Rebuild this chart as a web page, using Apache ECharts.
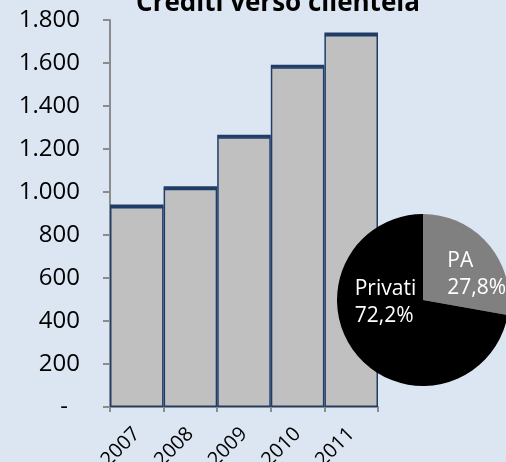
<!DOCTYPE html>
<html><head><meta charset="utf-8">
<script src="https://cdn.jsdelivr.net/npm/echarts@6/dist/echarts.min.js"></script>
<style>html,body{margin:0;padding:0;background:#dce6f2;}#c{width:506px;height:462px;}</style>
</head><body><div id="c"></div>
<script>
const title = 'Crediti verso clientela';
const years = ['2007','2008','2009','2010','2011'];
const crediti = [930, 1015, 1255, 1580, 1730];
const yTicks = {min: 0, max: 1800, step: 200};
const pieNames = ['PA', 'Privati'];
const pieValues = [27.8, 72.2];

const FONT = 'Open Sans';
const chart = echarts.init(document.getElementById('c'));
function fmtThousands(v){
  if (v === 0) return '{z|-}';
  return String(v).replace(/\B(?=(\d{3})+(?!\d))/g, '.');
}
chart.setOption({
  backgroundColor: '#dce6f2',
  animation: false,
  title: {text: title, left: 273, textAlign: 'center', top: -14,
    textStyle: {fontFamily: FONT, fontSize: 26, fontWeight: 'bold', color: '#000'}},
  grid: {left: 110, right: 128, top: 20, bottom: 55, containLabel: false, outerBoundsMode: 'none'},
  xAxis: {
    type: 'category', data: years, boundaryGap: true,
    axisLine: {lineStyle: {color: '#8c8c8c', width: 2}},
    axisTick: {show: true, length: 5, lineStyle: {color: '#8c8c8c', width: 2}},
    axisLabel: {rotate: 45, fontFamily: FONT, fontSize: 20, color: '#000', margin: 24}
  },
  yAxis: {
    type: 'value', min: yTicks.min, max: yTicks.max, interval: yTicks.step,
    splitLine: {show: false},
    axisLine: {show: true, lineStyle: {color: '#8c8c8c', width: 2}},
    axisTick: {show: true, length: 7, lineStyle: {color: '#8c8c8c', width: 2}},
    axisLabel: {formatter: fmtThousands, fontFamily: FONT, fontSize: 24, color: '#000', margin: 30,
      rich: {z: {fontFamily: FONT, fontSize: 24, color: '#000', padding: [0, 12, 0, 0]}}}
  },
  series: [
    {type: 'bar', data: crediti, barWidth: '100%', barGap: '-100%',
      itemStyle: {color: '#c0c0c0', borderColor: '#1f3d66', borderWidth: 1.5}, z: 2},
    {type: 'custom', data: crediti.map((v,i)=>[i,v]), z: 3,
      renderItem: function(params, api){
        const p = api.coord([api.value(0), api.value(1)]);
        const w = api.size([1, 0])[0];
        return {type: 'line', shape: {x1: p[0]-w/2, y1: p[1]-1, x2: p[0]+w/2, y2: p[1]-1},
          style: {stroke: '#1f3d66', lineWidth: 3}};
      }},
    {type: 'pie', center: [423, 300], radius: 86, startAngle: 90, clockwise: true, z: 5,
      data: pieNames.map((n,i)=>({name: n, value: pieValues[i]})),
      color: ['#808080', '#000000'],
      itemStyle: {borderWidth: 0},
      label: {show: true, position: 'inside', color: '#fff', fontFamily: FONT, fontSize: 21, lineHeight: 27,
        align: 'left',
        formatter: p => p.name + '\n' + p.value.toFixed(1).replace('.', ',') + '%'},
      labelLayout: function(params){
        return params.dataIndex === 0 ? {align: 'left', dx: -11, dy: 4} : {align: 'left', dx: -33, dy: -27};
      },
      labelLine: {show: false}
    }
  ]
});
</script></body></html>
